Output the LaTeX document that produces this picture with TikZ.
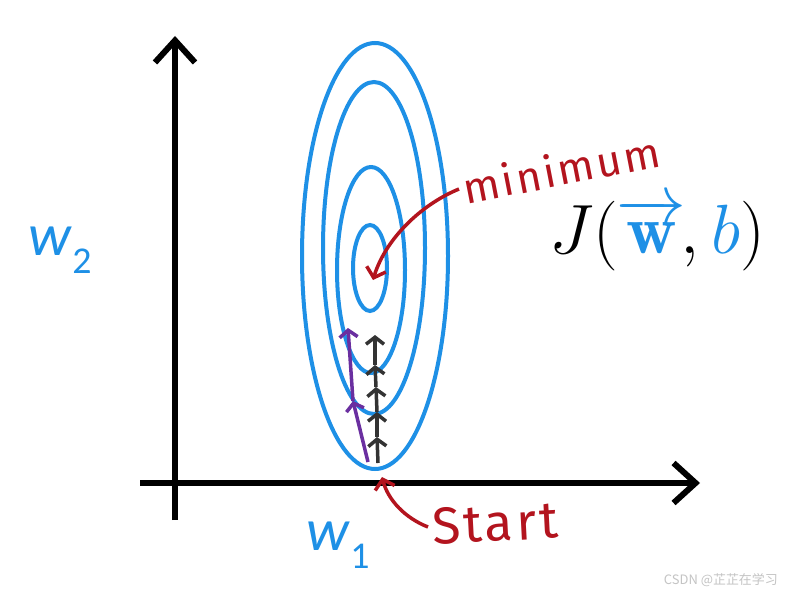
\documentclass[tikz,border=0pt]{standalone}
\usepackage{fix-cm}
\usepackage{fontspec}
\usepackage{xcolor}
\usepackage{tikz}
\usetikzlibrary{arrows.meta,positioning}
\newfontfamily\calfont{Carlito}
\newfontfamily\handfont[LetterSpace=6]{Fira Sans}
\newfontfamily\cjkfont{Noto Sans CJK SC}
\definecolor{wblue}{HTML}{1E90E6}
\definecolor{inkred}{HTML}{B3141E}
\definecolor{inkpurple}{HTML}{6A2FA0}
\definecolor{inkgray}{HTML}{333333}
\definecolor{wmgray}{HTML}{C4C4C4}

\begin{document}
\begin{tikzpicture}[
  x=1bp, y=-1bp,
  axis/.style={line width=6bp, -{Straight Barb[length=22bp,width=40bp]}},
  ring/.style={draw=wblue, line width=4bp},
  stepline/.style={inkgray, line width=3.5bp, -{Straight Barb[length=7bp,width=18bp]}},
  slowline/.style={inkpurple, line width=3.5bp, -{Straight Barb[length=7bp,width=18bp]}},
  note/.style={inkred, font=\handfont\fontsize{43}{43}\selectfont, inner sep=4bp},
  pointer/.style={inkred, line width=3.5bp, -{Straight Barb[length=9bp,width=20bp]}},
  wlab/.style={wblue, font=\calfont\fontsize{60}{60}\selectfont, inner sep=0pt}
]
\useasboundingbox (0,0) rectangle (787,593);
\fill[white] (0,0) rectangle (787,593);

% axes
\coordinate (ybot) at (175,520);
\coordinate (ytop) at (175,36);
\coordinate (xleft) at (140,483);
\coordinate (xright) at (700,483);
\draw[axis] (ybot) -- (ytop);
\draw[axis] (xleft) -- (xright);

% contours of the cost
\draw[ring] (375,256) ellipse [x radius=73, y radius=213];
\draw[ring] (374,248) ellipse [x radius=51, y radius=166];
\draw[ring] (371,270) ellipse [x radius=34, y radius=103];
\draw[ring] (370,268) ellipse [x radius=17, y radius=43];

% gradient descent steps
\coordinate (g0) at (378,463);
\coordinate (g1) at (377,437);
\coordinate (g2) at (377,412);
\coordinate (g3) at (376,387);
\coordinate (g4) at (375,365);
\coordinate (g5) at (375,335);
\draw[stepline] (g0) -- (g1);
\draw[stepline] (g1) -- (g2);
\draw[stepline] (g2) -- (g3);
\draw[stepline] (g3) -- (g4);
\draw[stepline] (g4) -- (g5);

\coordinate (p0) at (368,462);
\coordinate (p1) at (353,401);
\coordinate (p2) at (348,328);
\draw[slowline] (p0) -- (p1);
\draw[slowline] (p1) -- (p2);

% labels
\node[wlab] (w2) at (60,250) {\itshape w\kern1bp\raisebox{-0.3em}{\upshape\fontsize{38}{38}\selectfont 2}};
\node[wlab] (w1) at (338,545) {\itshape w\kern1bp\raisebox{-0.3em}{\upshape\fontsize{38}{38}\selectfont 1}};
\node[font=\fontsize{70}{80}\selectfont, inner sep=0pt] (cost) at (657,234)
  {$J($\kern0.06em\makebox[0.84em]{\color{wblue}$\overrightarrow{\mathbf{w}}$}$,\textcolor{wblue}{b})$};

\coordinate (minpt) at (373,280);
\coordinate (startpt) at (382,477);
\node[note, anchor=west, rotate=11] (minlab) at (459,189) {minimum};
\node[note, anchor=west, rotate=3, font=\handfont\fontsize{52}{52}\selectfont] (startlab) at (428,527) {Start};
\draw[pointer] (minlab.west) .. controls (420,205) and (385,240) .. (minpt);
\draw[pointer] (startlab.west) .. controls (405,518) and (388,500) .. (startpt);

\node[wmgray, font=\cjkfont\fontsize{13}{13}\selectfont, anchor=east, inner sep=0pt] (wm) at (778,580) {CSDN @芷芷在学习};
\end{tikzpicture}
\end{document}
